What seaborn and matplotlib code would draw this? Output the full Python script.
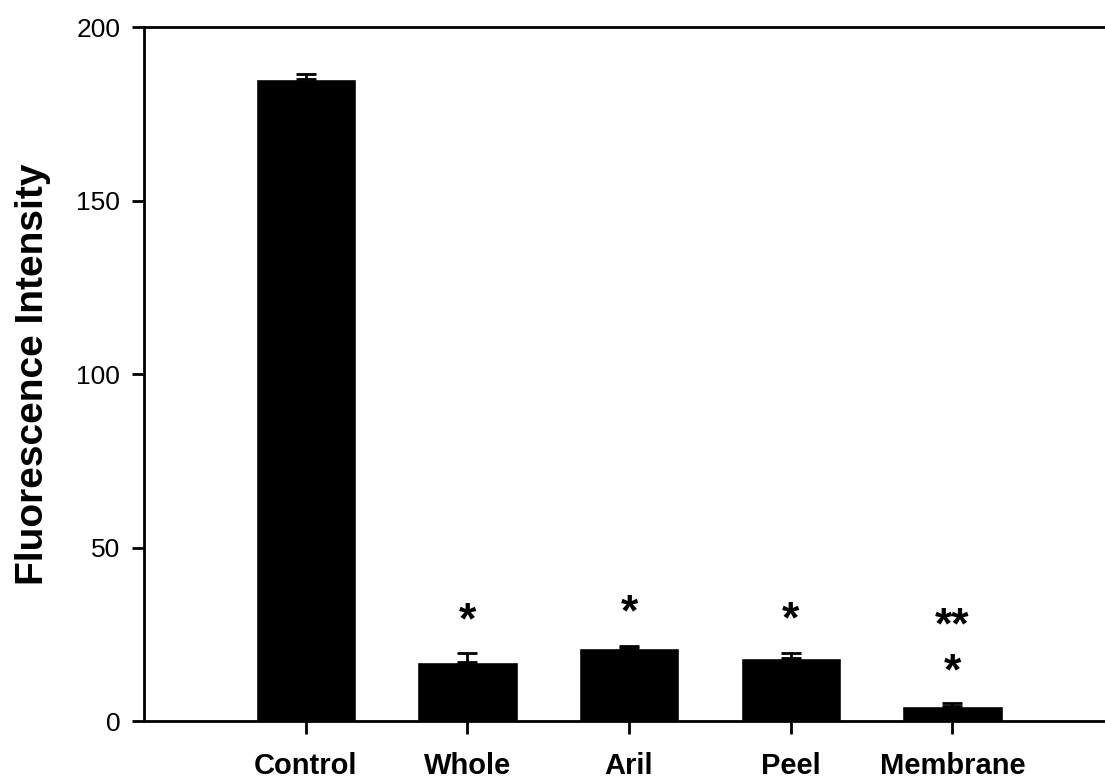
import numpy as np
import pandas as pd
import seaborn as sns
import matplotlib
matplotlib.use("Agg")
import matplotlib.pyplot as plt

categories = ["Control", "Whole", "Aril", "Peel", "Membrane"]
intensity = [185.0, 17.0, 21.0, 18.2, 4.3]
sem = [1.4, 2.6, 0.7, 1.4, 0.9]
stars = ["", "*", "*", "*", "**"]
star_y = [0, 28.5, 31.0, 29.0, 27.0]
extra_star_y = 14.0  # second single star under Membrane

df = pd.DataFrame({"group": categories, "value": intensity})

sns.set_style("white")
plt.rcParams["font.family"] = ["Liberation Sans", "DejaVu Sans"]
plt.rcParams["text.color"] = "black"
plt.rcParams["axes.labelcolor"] = "black"
plt.rcParams["xtick.color"] = "black"
plt.rcParams["ytick.color"] = "black"

fig = plt.figure(figsize=(11.05, 7.8), dpi=100)
ax = fig.add_axes([0.1303, 0.0756, 0.878, 0.8897])

sns.barplot(data=df, x="group", y="value", color="black", width=0.62,
            saturation=1, ax=ax, errorbar=None)
xs = np.arange(len(categories))
ax.errorbar(xs, intensity, yerr=[np.zeros(len(sem)), sem], fmt="none",
            ecolor="black", elinewidth=2, capsize=7, capthick=2)

for x, s, y in zip(xs, stars, star_y):
    if s:
        ax.text(x, y, s, ha="center", va="center", fontsize=32,
                fontweight="bold")
ax.text(xs[-1], extra_star_y, "*", ha="center", va="center", fontsize=32,
        fontweight="bold")

ax.set_xlim(-1.0, 5.0)
ax.set_ylim(0, 200)
ax.set_yticks([0, 50, 100, 150, 200])
ax.set_xlabel("")
ax.set_ylabel("Fluorescence Intensity", fontsize=28, fontweight="bold",
              labelpad=18)

for side in ["left", "bottom", "top"]:
    ax.spines[side].set_linewidth(2)
    ax.spines[side].set_color("black")
ax.spines["right"].set_visible(False)

ax.tick_params(axis="y", direction="out", length=9, width=2, labelsize=19,
               left=True, pad=8)
ax.tick_params(axis="x", direction="out", length=9, width=2, labelsize=21,
               bottom=True, pad=13)
for lbl in ax.get_xticklabels():
    lbl.set_fontweight("bold")

fig.savefig("out.png", dpi=100)
